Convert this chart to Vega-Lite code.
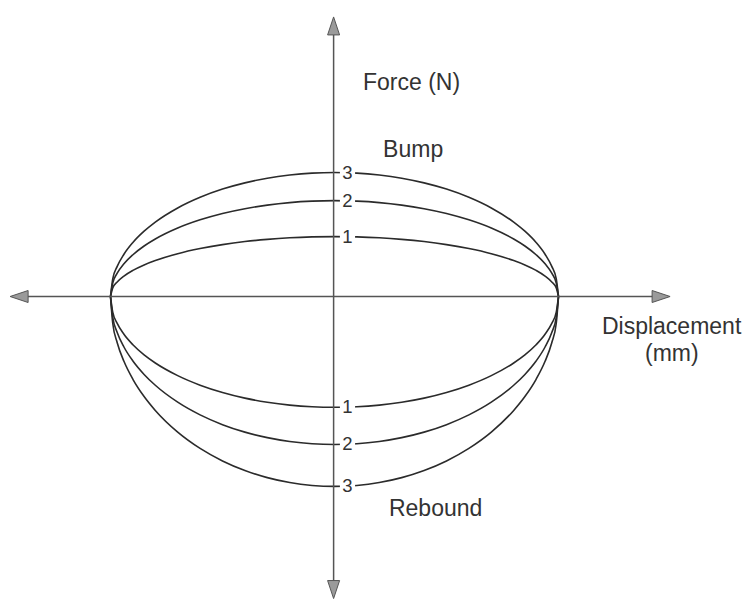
{
  "$schema": "https://vega.github.io/schema/vega-lite/v6.json",
  "width": 744,
  "height": 601,
  "autosize": {"type": "fit", "contains": "padding"},
  "padding": 0,
  "background": "white",
  "view": {"stroke": null},
  "config": {"font": "Liberation Sans"},
  "datasets": {
    "curves": [
      {"c":"b1","d":-100,"f":0},{"c":"b1","d":-99,"f":14.1},{"c":"b1","d":-97,"f":24.3},{"c":"b1","d":-94,"f":34.1},{"c":"b1","d":-90,"f":43.6},{"c":"b1","d":-85,"f":52.7},{"c":"b1","d":-80,"f":60},{"c":"b1","d":-70,"f":71.4},{"c":"b1","d":-60,"f":80},{"c":"b1","d":-50,"f":86.6},{"c":"b1","d":-40,"f":91.7},{"c":"b1","d":-30,"f":95.4},{"c":"b1","d":-20,"f":98},{"c":"b1","d":-10,"f":99.5},{"c":"b1","d":0,"f":100},
      {"c":"b1","d":10,"f":99.5},{"c":"b1","d":20,"f":98},{"c":"b1","d":30,"f":95.4},{"c":"b1","d":40,"f":91.7},{"c":"b1","d":50,"f":86.6},{"c":"b1","d":60,"f":80},{"c":"b1","d":70,"f":71.4},{"c":"b1","d":80,"f":60},{"c":"b1","d":85,"f":52.7},{"c":"b1","d":90,"f":43.6},{"c":"b1","d":94,"f":34.1},{"c":"b1","d":97,"f":24.3},{"c":"b1","d":99,"f":14.1},{"c":"b1","d":100,"f":0},
      {"c":"b2","d":-100,"f":0},{"c":"b2","d":-99,"f":22.6},{"c":"b2","d":-97,"f":38.9},{"c":"b2","d":-94,"f":54.6},{"c":"b2","d":-90,"f":69.7},{"c":"b2","d":-85,"f":84.3},{"c":"b2","d":-80,"f":96},{"c":"b2","d":-70,"f":114.3},{"c":"b2","d":-60,"f":128},{"c":"b2","d":-50,"f":138.6},{"c":"b2","d":-40,"f":146.6},{"c":"b2","d":-30,"f":152.6},{"c":"b2","d":-20,"f":156.8},{"c":"b2","d":-10,"f":159.2},{"c":"b2","d":0,"f":160},
      {"c":"b2","d":10,"f":159.2},{"c":"b2","d":20,"f":156.8},{"c":"b2","d":30,"f":152.6},{"c":"b2","d":40,"f":146.6},{"c":"b2","d":50,"f":138.6},{"c":"b2","d":60,"f":128},{"c":"b2","d":70,"f":114.3},{"c":"b2","d":80,"f":96},{"c":"b2","d":85,"f":84.3},{"c":"b2","d":90,"f":69.7},{"c":"b2","d":94,"f":54.6},{"c":"b2","d":97,"f":38.9},{"c":"b2","d":99,"f":22.6},{"c":"b2","d":100,"f":0},
      {"c":"b3","d":-100,"f":0},{"c":"b3","d":-99,"f":29.2},{"c":"b3","d":-97,"f":50.3},{"c":"b3","d":-94,"f":70.6},{"c":"b3","d":-90,"f":90.2},{"c":"b3","d":-85,"f":109},{"c":"b3","d":-80,"f":124.2},{"c":"b3","d":-70,"f":147.8},{"c":"b3","d":-60,"f":165.6},{"c":"b3","d":-50,"f":179.3},{"c":"b3","d":-40,"f":189.7},{"c":"b3","d":-30,"f":197.5},{"c":"b3","d":-20,"f":202.8},{"c":"b3","d":-10,"f":206},{"c":"b3","d":0,"f":207},
      {"c":"b3","d":10,"f":206},{"c":"b3","d":20,"f":202.8},{"c":"b3","d":30,"f":197.5},{"c":"b3","d":40,"f":189.7},{"c":"b3","d":50,"f":179.3},{"c":"b3","d":60,"f":165.6},{"c":"b3","d":70,"f":147.8},{"c":"b3","d":80,"f":124.2},{"c":"b3","d":85,"f":109},{"c":"b3","d":90,"f":90.2},{"c":"b3","d":94,"f":70.6},{"c":"b3","d":97,"f":50.3},{"c":"b3","d":99,"f":29.2},{"c":"b3","d":100,"f":0},
      {"c":"r1","d":-100,"f":0},{"c":"r1","d":-99,"f":-26.1},{"c":"r1","d":-97,"f":-45},{"c":"r1","d":-94,"f":-63.1},{"c":"r1","d":-90,"f":-80.6},{"c":"r1","d":-85,"f":-97.5},{"c":"r1","d":-80,"f":-111},{"c":"r1","d":-70,"f":-132.1},{"c":"r1","d":-60,"f":-148},{"c":"r1","d":-50,"f":-160.2},{"c":"r1","d":-40,"f":-169.6},{"c":"r1","d":-30,"f":-176.5},{"c":"r1","d":-20,"f":-181.3},{"c":"r1","d":-10,"f":-184.1},{"c":"r1","d":0,"f":-185},
      {"c":"r1","d":10,"f":-184.1},{"c":"r1","d":20,"f":-181.3},{"c":"r1","d":30,"f":-176.5},{"c":"r1","d":40,"f":-169.6},{"c":"r1","d":50,"f":-160.2},{"c":"r1","d":60,"f":-148},{"c":"r1","d":70,"f":-132.1},{"c":"r1","d":80,"f":-111},{"c":"r1","d":85,"f":-97.5},{"c":"r1","d":90,"f":-80.6},{"c":"r1","d":94,"f":-63.1},{"c":"r1","d":97,"f":-45},{"c":"r1","d":99,"f":-26.1},{"c":"r1","d":100,"f":0},
      {"c":"r2","d":-100,"f":0},{"c":"r2","d":-99,"f":-34.8},{"c":"r2","d":-97,"f":-60},{"c":"r2","d":-94,"f":-84.3},{"c":"r2","d":-90,"f":-107.7},{"c":"r2","d":-85,"f":-130.1},{"c":"r2","d":-80,"f":-148.2},{"c":"r2","d":-70,"f":-176.4},{"c":"r2","d":-60,"f":-197.6},{"c":"r2","d":-50,"f":-213.9},{"c":"r2","d":-40,"f":-226.4},{"c":"r2","d":-30,"f":-235.6},{"c":"r2","d":-20,"f":-242},{"c":"r2","d":-10,"f":-245.8},{"c":"r2","d":0,"f":-247},
      {"c":"r2","d":10,"f":-245.8},{"c":"r2","d":20,"f":-242},{"c":"r2","d":30,"f":-235.6},{"c":"r2","d":40,"f":-226.4},{"c":"r2","d":50,"f":-213.9},{"c":"r2","d":60,"f":-197.6},{"c":"r2","d":70,"f":-176.4},{"c":"r2","d":80,"f":-148.2},{"c":"r2","d":85,"f":-130.1},{"c":"r2","d":90,"f":-107.7},{"c":"r2","d":94,"f":-84.3},{"c":"r2","d":97,"f":-60},{"c":"r2","d":99,"f":-34.8},{"c":"r2","d":100,"f":0},
      {"c":"r3","d":-100,"f":0},{"c":"r3","d":-99,"f":-44.7},{"c":"r3","d":-97,"f":-77.1},{"c":"r3","d":-94,"f":-108.2},{"c":"r3","d":-90,"f":-138.2},{"c":"r3","d":-85,"f":-167},{"c":"r3","d":-80,"f":-190.2},{"c":"r3","d":-70,"f":-226.4},{"c":"r3","d":-60,"f":-253.6},{"c":"r3","d":-50,"f":-274.5},{"c":"r3","d":-40,"f":-290.5},{"c":"r3","d":-30,"f":-302.4},{"c":"r3","d":-20,"f":-310.6},{"c":"r3","d":-10,"f":-315.4},{"c":"r3","d":0,"f":-317},
      {"c":"r3","d":10,"f":-315.4},{"c":"r3","d":20,"f":-310.6},{"c":"r3","d":30,"f":-302.4},{"c":"r3","d":40,"f":-290.5},{"c":"r3","d":50,"f":-274.5},{"c":"r3","d":60,"f":-253.6},{"c":"r3","d":70,"f":-226.4},{"c":"r3","d":80,"f":-190.2},{"c":"r3","d":85,"f":-167},{"c":"r3","d":90,"f":-138.2},{"c":"r3","d":94,"f":-108.2},{"c":"r3","d":97,"f":-77.1},{"c":"r3","d":99,"f":-44.7},{"c":"r3","d":100,"f":0}
    ],
    "axes": [
      {"axis":"h","d":-140,"f":0},{"axis":"h","d":146,"f":0},
      {"axis":"v","d":-0.4,"f":452},{"axis":"v","d":-0.4,"f":-488}
    ],
    "arrows": [
      {"dir":"up","d":-0.4,"f":451.7},
      {"dir":"down","d":-0.4,"f":-489.2},
      {"dir":"left","d":-140.8,"f":0},
      {"dir":"right","d":145.8,"f":0}
    ],
    "nums": [
      {"label":"1","d":5.8,"f":100},{"label":"2","d":5.8,"f":160},{"label":"3","d":5.8,"f":207},
      {"label":"1","d":5.8,"f":-185},{"label":"2","d":5.8,"f":-247},{"label":"3","d":5.8,"f":-317}
    ],
    "labels": [
      {"text":"Force (N)","d":12.7,"f":345},
      {"text":"Bump","d":21.7,"f":233.3},
      {"text":"Displacement","d":119.4,"f":-63.3},
      {"text":"(mm)","d":138.6,"f":-108.3},
      {"text":"Rebound","d":24.3,"f":-366.7}
    ]
  },
  "layer": [
    {
      "data": {"name": "curves"},
      "mark": {"type": "line", "color": "#2b2b2b", "strokeWidth": 1.6, "interpolate": "monotone"},
      "encoding": {
        "x": {"field": "d", "type": "quantitative", "scale": {"domain": [-149.33, 182.81], "nice": false, "zero": false}, "axis": null},
        "y": {"field": "f", "type": "quantitative", "scale": {"domain": [-506.67, 495], "nice": false, "zero": false}, "axis": null},
        "detail": {"field": "c", "type": "nominal"}
      }
    },
    {
      "data": {"name": "nums"},
      "mark": {"type": "point", "shape": "square", "filled": true, "color": "white", "opacity": 1, "size": 230},
      "encoding": {
        "x": {"field": "d", "type": "quantitative"},
        "y": {"field": "f", "type": "quantitative"}
      }
    },
    {
      "data": {"name": "axes"},
      "mark": {"type": "line", "color": "#555555", "strokeWidth": 1.5},
      "encoding": {
        "x": {"field": "d", "type": "quantitative"},
        "y": {"field": "f", "type": "quantitative"},
        "detail": {"field": "axis", "type": "nominal"}
      }
    },
    {
      "data": {"name": "arrows"},
      "mark": {"type": "point", "filled": true, "fill": "#9a9a9a", "stroke": "#555555", "strokeWidth": 1, "opacity": 1, "size": 400},
      "encoding": {
        "x": {"field": "d", "type": "quantitative"},
        "y": {"field": "f", "type": "quantitative"},
        "shape": {"field": "dir", "type": "nominal", "legend": null,
          "scale": {"domain": ["up", "down", "left", "right"],
            "range": ["M0,-0.9L0.6,0.9L-0.6,0.9Z", "M0,0.9L0.6,-0.9L-0.6,-0.9Z", "M-0.9,0L0.9,-0.6L0.9,0.6Z", "M0.9,0L-0.9,-0.6L-0.9,0.6Z"]}}
      }
    },
    {
      "data": {"name": "nums"},
      "mark": {"type": "text", "fontSize": 18.5, "color": "#333333", "align": "center", "baseline": "middle"},
      "encoding": {
        "x": {"field": "d", "type": "quantitative"},
        "y": {"field": "f", "type": "quantitative"},
        "text": {"field": "label", "type": "nominal"}
      }
    },
    {
      "data": {"name": "labels"},
      "mark": {"type": "text", "fontSize": 23, "color": "#333333", "align": "left", "baseline": "alphabetic"},
      "encoding": {
        "x": {"field": "d", "type": "quantitative"},
        "y": {"field": "f", "type": "quantitative"},
        "text": {"field": "text", "type": "nominal"}
      }
    }
  ]
}
